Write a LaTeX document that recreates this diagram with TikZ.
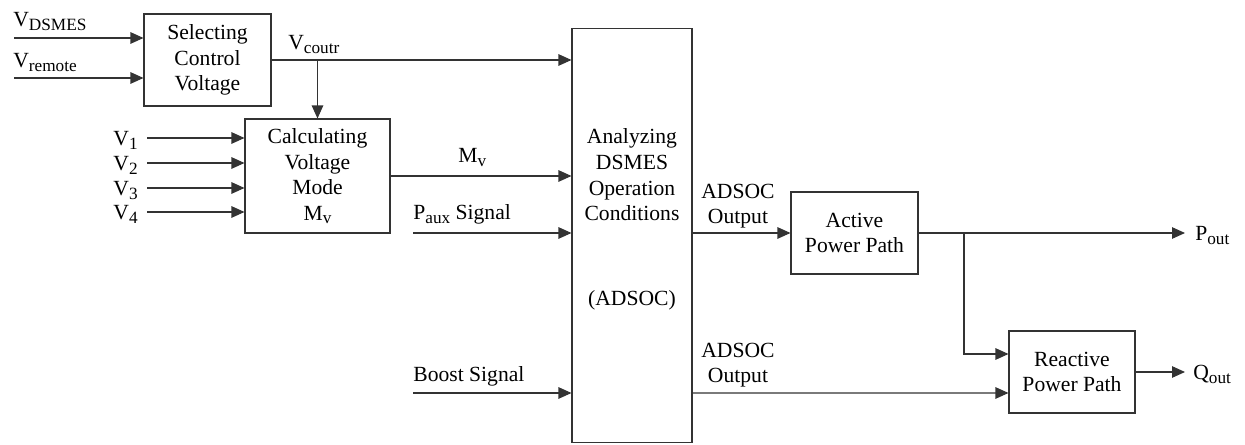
\documentclass[tikz,border=0pt]{standalone}
\usepackage{fontspec}
\setmainfont{Liberation Serif}
\usepackage{tikz}
\usetikzlibrary{arrows.meta,positioning,calc}
\newcommand{\sbs}[1]{\raisebox{-0.14em}{\fontsize{9.8}{10}\selectfont #1}}

\begin{document}
\begin{tikzpicture}[
  x=0.02cm, y=-0.02cm,
  font=\fontsize{12.3}{14.6}\selectfont,
  box/.style={draw=black!80, line width=0.6pt, align=center, inner sep=0pt},
  lbl/.style={inner sep=0pt, align=center},
  arr/.style={-{Triangle[length=2.6mm,width=2.3mm]}, draw=black!80, line width=0.6pt}
]
  \useasboundingbox (0,0) rectangle (1245,445);

  % blocks
  \node[box, minimum width=2.54cm, minimum height=1.84cm] (sel) at (207.5,60) {Selecting\\Control\\Voltage};
  \node[box, minimum width=2.9cm, minimum height=2.28cm] (calc) at (317.5,176) {Calculating\\Voltage\\Mode\\M\sbs{v}};
  \node[box, minimum width=2.4cm, minimum height=8.3cm] (adsoc) at (632,235.5) {};
  \node[lbl] (adsoctxt) at (632,175) {Analyzing\\DSMES\\Operation\\Conditions};
  \node[lbl] (adsocname) at (632,300) {(ADSOC)};
  \node[box, minimum width=2.54cm, minimum height=1.64cm] (act) at (854.5,233) {Active\\Power Path};
  \node[box, minimum width=2.52cm, minimum height=1.64cm] (rea) at (1072,372) {Reactive\\Power Path};

  % inputs of the selecting block
  \coordinate (inD) at (14,38);
  \coordinate (inR) at (14,78);
  \node[lbl, anchor=base west] (lD) at (13,27) {V\sbs{DSMES}};
  \node[lbl, anchor=base west] (lR) at (13,68) {V\sbs{remote}};
  \draw[arr] (inD) -- (sel.west |- inD);
  \draw[arr] (inR) -- (sel.west |- inR);

  % control voltage
  \node[lbl, anchor=base west] (lC) at (288,50) {V\sbs{coutr}};
  \draw[arr] (sel.east) -- (adsoc.west |- sel.east);
  \draw[arr] (sel.east -| calc.north) -- (calc.north);

  % voltages
  \foreach \i/\y in {1/138,2/163,3/188,4/212} {
    \coordinate (v\i) at (147,\y);
    \node[lbl, anchor=base east] (lv\i) at (138,\y+8) {V\sbs{\i}};
    \draw[arr] (v\i) -- (calc.west |- v\i);
  }

  % signals into ADSOC
  \node[lbl, anchor=base west] (lM) at (458,163) {M\sbs{v}};
  \draw[arr] (calc.east) -- (adsoc.west |- calc.east);
  \coordinate (paux) at (413,233);
  \node[lbl, anchor=base west] (lP) at (413,220) {P\sbs{aux} Signal};
  \draw[arr] (paux) -- (adsoc.west |- paux);
  \coordinate (boost) at (413,393);
  \node[lbl, anchor=base west] (lB) at (413,382) {Boost Signal};
  \draw[arr] (boost) -- (adsoc.west |- boost);

  % outputs
  \node[lbl] (lO1) at (738,206) {ADSOC\\Output};
  \node[lbl] (lO2) at (738,365) {ADSOC\\Output};
  \draw[arr] (adsoc.east |- act.west) -- (act.west);
  \draw[arr] (adsoc.east |- boost) -- ([yshift=-0.42cm]rea.west);

  \coordinate (pout) at (1185,233);
  \coordinate (br) at (964,233);
  \coordinate (qout) at (1185,372);
  \draw[arr] (act.east) -- (pout);
  \draw[arr] (br) |- ([yshift=0.36cm]rea.west);
  \draw[arr] (rea.east) -- (qout);
  \node[lbl, anchor=base west] (lPo) at (1195,241) {P\sbs{out}};
  \node[lbl, anchor=base west] (lQo) at (1193,380) {Q\sbs{out}};
\end{tikzpicture}
\end{document}
